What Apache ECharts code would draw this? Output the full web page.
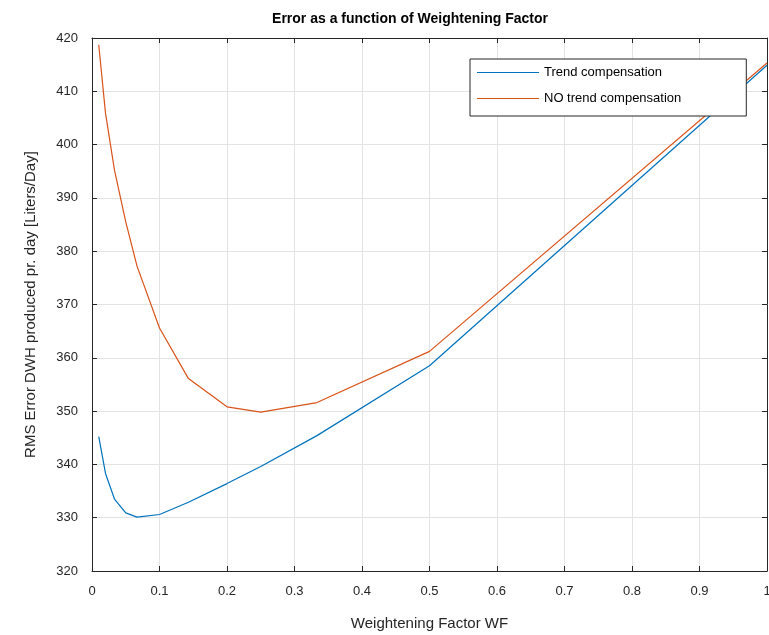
<!DOCTYPE html>
<html>
<head>
<meta charset="utf-8">
<script src="https://cdn.jsdelivr.net/npm/echarts@6/dist/echarts.min.js"></script>
<style>
html,body{margin:0;padding:0;background:#fff;}
#chart{width:769px;height:635px;}
</style>
</head>
<body>
<div id="chart"></div>
<script>
// Weightening factor values (WF = 1/N)
const wf = [0.01, 0.02, 0.0333, 0.05, 0.0667, 0.1, 0.1429, 0.2, 0.25, 0.3333, 0.5, 1];
// RMS error with trend compensation
const trendComp = [345.2, 338.3, 333.5, 330.9, 330.1, 330.6, 332.9, 336.4, 339.6, 345.4, 358.5, 414.9];
// RMS error without trend compensation
const noTrendComp = [418.7, 405.9, 395.2, 385.5, 377.2, 365.6, 356.1, 350.8, 349.8, 351.6, 361.2, 415.3];
const seriesNames = ['Trend compensation', 'NO trend compensation'];

const font = 'Liberation Sans, Arial, Helvetica, sans-serif';
const axisColor = '#262626';
const gridColor = '#e3e3e3';

const toPairs = (xs, ys) => xs.map((x, i) => [x, ys[i]]);

const chart = echarts.init(document.getElementById('chart'), null, {renderer: 'canvas'});

const baseX = {
  type: 'value', min: 0, max: 1, interval: 0.1,
  axisLine: {show: true, onZero: false, lineStyle: {color: axisColor, width: 1}},
  axisTick: {show: true, inside: true, length: 5, lineStyle: {color: axisColor}},
  splitLine: {show: false}
};
const baseY = {
  type: 'value', min: 320, max: 420, interval: 10,
  axisLine: {show: true, onZero: false, lineStyle: {color: axisColor, width: 1}},
  axisTick: {show: true, inside: true, length: 5, lineStyle: {color: axisColor}},
  splitLine: {show: false}
};

chart.setOption({
  animation: false,
  backgroundColor: '#ffffff',
  title: {
    text: 'Error as a function of Weightening Factor',
    left: 405, top: 7, textAlign: 'center',
    textStyle: {fontFamily: font, fontSize: 14, fontWeight: 'bold', color: '#000'}
  },
  grid: {left: 92, right: 2, top: 38, bottom: 64, containLabel: false, outerBoundsMode: 'none'},
  legend: {
    orient: 'vertical',
    left: 470, top: 59,
    data: seriesNames,
    icon: 'rect',
    itemWidth: 62, itemHeight: 1.2,
    itemGap: 13,
    padding: [7, 65, 11, 7],
    backgroundColor: '#ffffff',
    borderColor: '#262626', borderWidth: 1,
    borderRadius: 0,
    textStyle: {fontFamily: font, fontSize: 13, color: '#000', padding: [0, 0, 0, 0]}
  },
  xAxis: [
    Object.assign({}, baseX, {
      position: 'bottom',
      name: 'Weightening Factor WF',
      nameLocation: 'middle', nameGap: 45,
      nameTextStyle: {fontFamily: font, fontSize: 15, color: axisColor},
      axisLabel: {
        fontFamily: font, fontSize: 13, color: axisColor, margin: 14,
        formatter: v => (Math.round(v * 10) / 10).toString()
      },
      splitLine: {show: true, lineStyle: {color: gridColor, width: 1}}
    }),
    Object.assign({}, baseX, {position: 'top', axisLabel: {show: false}})
  ],
  yAxis: [
    Object.assign({}, baseY, {
      position: 'left',
      name: 'RMS Error DWH produced pr. day [Liters/Day]',
      nameLocation: 'middle', nameGap: 54,
      nameTextStyle: {fontFamily: font, fontSize: 15, color: axisColor},
      axisLabel: {fontFamily: font, fontSize: 13, color: axisColor, margin: 14},
      splitLine: {show: true, lineStyle: {color: gridColor, width: 1}}
    }),
    Object.assign({}, baseY, {position: 'right', axisLabel: {show: false}})
  ],
  series: [
    {
      name: seriesNames[0], type: 'line', data: toPairs(wf, trendComp),
      showSymbol: false, symbol: 'none',
      lineStyle: {color: '#0072BD', width: 1.2},
      itemStyle: {color: '#0072BD'}, z: 3
    },
    {
      name: seriesNames[1], type: 'line', data: toPairs(wf, noTrendComp),
      showSymbol: false, symbol: 'none',
      lineStyle: {color: '#D95319', width: 1.2},
      itemStyle: {color: '#D95319'}, z: 2
    }
  ]
});
</script>
</body>
</html>
